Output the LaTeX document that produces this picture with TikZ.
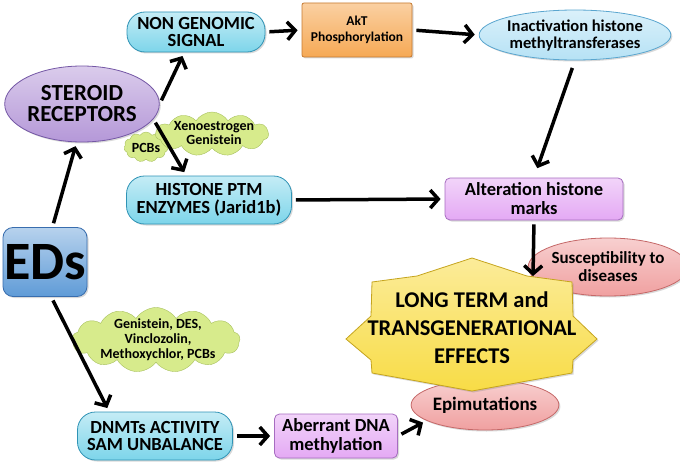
\documentclass[tikz,border=0pt]{standalone}
\usepackage{fontspec}
\setmainfont{Carlito}
\usepackage{tikz}
\usetikzlibrary{arrows.meta,shapes.geometric,shapes.symbols,shadows}

\definecolor{cyanfill}{HTML}{7DD5EA}
\definecolor{cyanline}{HTML}{2F93B5}
\definecolor{violetfill}{HTML}{B598D8}
\definecolor{violetline}{HTML}{7457A5}
\definecolor{lilacfill}{HTML}{E4A9F4}
\definecolor{lilacline}{HTML}{A66CC0}
\definecolor{orangefill}{HTML}{F6A955}
\definecolor{orangeline}{HTML}{C57930}
\definecolor{skyfill}{HTML}{B6E2F5}
\definecolor{skyline}{HTML}{5AA6CF}
\definecolor{pinkfill}{HTML}{F0A0A0}
\definecolor{pinkline}{HTML}{C56868}
\definecolor{starfill}{HTML}{F8DC46}
\definecolor{starline}{HTML}{C5A41E}
\definecolor{cloudfill}{HTML}{D7EB8C}
\definecolor{cloudline}{HTML}{A7C05E}
\definecolor{edsfill}{HTML}{5F9BD7}
\definecolor{edsline}{HTML}{386DAE}

\begin{document}
\begin{tikzpicture}[x=1pt,y=-1pt,
  shade/.style={drop shadow={opacity=0.3,shadow xshift=1.5pt,shadow yshift=-1.5pt}},
  pill/.style={shade,draw=cyanline,thick,top color=cyanfill!45,bottom color=cyanfill,
    rounded corners=18pt,inner sep=0pt,align=center,
    font=\bfseries\fontsize{18.5}{17.5}\selectfont},
  lilac/.style={shade,draw=lilacline,thick,top color=lilacfill!50,bottom color=lilacfill,
    rounded corners=5pt,inner sep=0pt,align=center,
    font=\bfseries\fontsize{18.5}{19}\selectfont},
  pinkoval/.style={shade,ellipse,draw=pinkline,thick,top color=pinkfill!50,bottom color=pinkfill,
    inner sep=0pt,align=center,font=\bfseries\fontsize{17}{18}\selectfont},
  puff/.style={cloud,cloud puffs=11,cloud puff arc=115,draw=cloudline,fill=cloudfill,inner sep=0pt},
  cloudtext/.style={align=center,inner sep=0pt,font=\bfseries\fontsize{14}{14}\selectfont},
  arr/.style={line width=3.5pt,-{Straight Barb[length=8pt,width=18pt]},shorten <=4pt,shorten >=4pt}
]
\useasboundingbox (0,0) rectangle (680,468);

% upper branch
\node[shade,ellipse,draw=violetline,thick,top color=violetfill!50,bottom color=violetfill,
  minimum width=127pt,minimum height=76pt,inner sep=0pt,align=center,
  font=\bfseries\fontsize{23}{21}\selectfont] (steroid) at (82,104) {STEROID\\RECEPTORS};
\node[pill,minimum width=138pt,minimum height=40pt] (nongen) at (196,32) {NON GENOMIC\\SIGNAL};
\node[shade,draw=orangeline,thick,top color=orangefill!55,bottom color=orangefill,
  rounded corners=2pt,minimum width=110pt,minimum height=54pt,inner sep=0pt,align=center,
  font=\bfseries\fontsize{13.5}{16}\selectfont] (akt) at (357,30) {AkT\\Phosphorylation};
\node[shade,ellipse,draw=skyline,thick,top color=skyfill!50,bottom color=skyfill,
  minimum width=176pt,minimum height=50pt,inner sep=0pt,align=center,
  font=\bfseries\fontsize{16.5}{17}\selectfont] (inact) at (575,35) {Inactivation histone\\methyltransferases};

\node[puff,minimum width=44pt,minimum height=30pt] (pcbscloud) at (146,147) {};
\node[puff,minimum width=113pt,minimum height=44pt] (xenocloud) at (212,134) {};
\node[cloudtext] (pcbs) at (146,148) {PCBs};
\node[cloudtext] (xeno) at (214,133) {Xenoestrogen\\Genistein};

\node[pill,minimum width=165pt,minimum height=48pt] (ptm) at (209,200) {HISTONE PTM\\ENZYMES (Jarid1b)};
\node[lilac,minimum width=178pt,minimum height=42pt] (alter) at (534,199) {Alteration histone\\marks};

% EDs
\node[shade,draw=edsline,thick,top color=edsfill!45,bottom color=edsfill,rounded corners=10pt,
  minimum width=84pt,minimum height=69pt,inner sep=0pt,
  font=\bfseries\fontsize{54}{54}\selectfont] (eds) at (45,262) {EDs};

% lower branch
\node[puff,cloud puffs=13,minimum width=168pt,minimum height=65pt] (geniscloud) at (156,340) {};
\node[cloudtext,font=\bfseries\fontsize{14}{15}\selectfont] (genis) at (158,340)
  {Genistein, DES,\\Vinclozolin,\\Methoxychlor, PCBs};
\node[pill,minimum width=155pt,minimum height=48pt] (dnmt) at (155,436) {DNMTs ACTIVITY\\SAM UNBALANCE};
\node[lilac,minimum width=123pt,minimum height=44pt] (aberr) at (336,436) {Aberrant DNA\\methylation};

% outcome
\node[pinkoval,minimum width=133pt,minimum height=58pt] (suscep) at (608,267) {Susceptibility to\\diseases};
\node[pinkoval,font=\bfseries\fontsize{19}{19}\selectfont,
  minimum width=112pt,minimum height=50pt] (epimut) at (485,405) {Epimutations};
\draw[shade,draw=starline,thick,top color=starfill!55,bottom color=starfill]
  (472,258) -- (527,276) -- (572,282) -- (573,316) -- (597,339) -- (573,360) -- (572,373)
  -- (527,381) -- (472,391) -- (417,381) -- (372,373) -- (371,360) -- (346,339)
  -- (371,316) -- (372,282) -- (417,276) -- cycle;
\node[align=center,inner sep=0pt,font=\bfseries\fontsize{22.5}{28}\selectfont] (effects) at (472,328)
  {LONG TERM and\\TRANSGENERATIONAL\\EFFECTS};
\coordinate (hit) at (533,276);

% arrows
\draw[arr] (eds.78) -- (steroid.262);
\draw[arr] (steroid.east) -- (nongen.240);
\draw[arr] (steroid.-12) -- (ptm.133);
\draw[arr] (nongen.east) -- (akt.west);
\draw[arr] (akt.east) -- (inact.west);
\draw[arr,shorten <=8pt,shorten >=10pt] (inact.south) -- (alter.north);
\draw[arr] (ptm.east) -- (alter.west);
\draw[arr,shorten >=0pt] (alter.south) -- (hit);
\draw[arr] (eds.-80) -- (dnmt.152);
\draw[arr] (dnmt.east) -- (aberr.west);
\draw[arr] (aberr.east) -- (epimut.195);

\end{tikzpicture}
\end{document}
